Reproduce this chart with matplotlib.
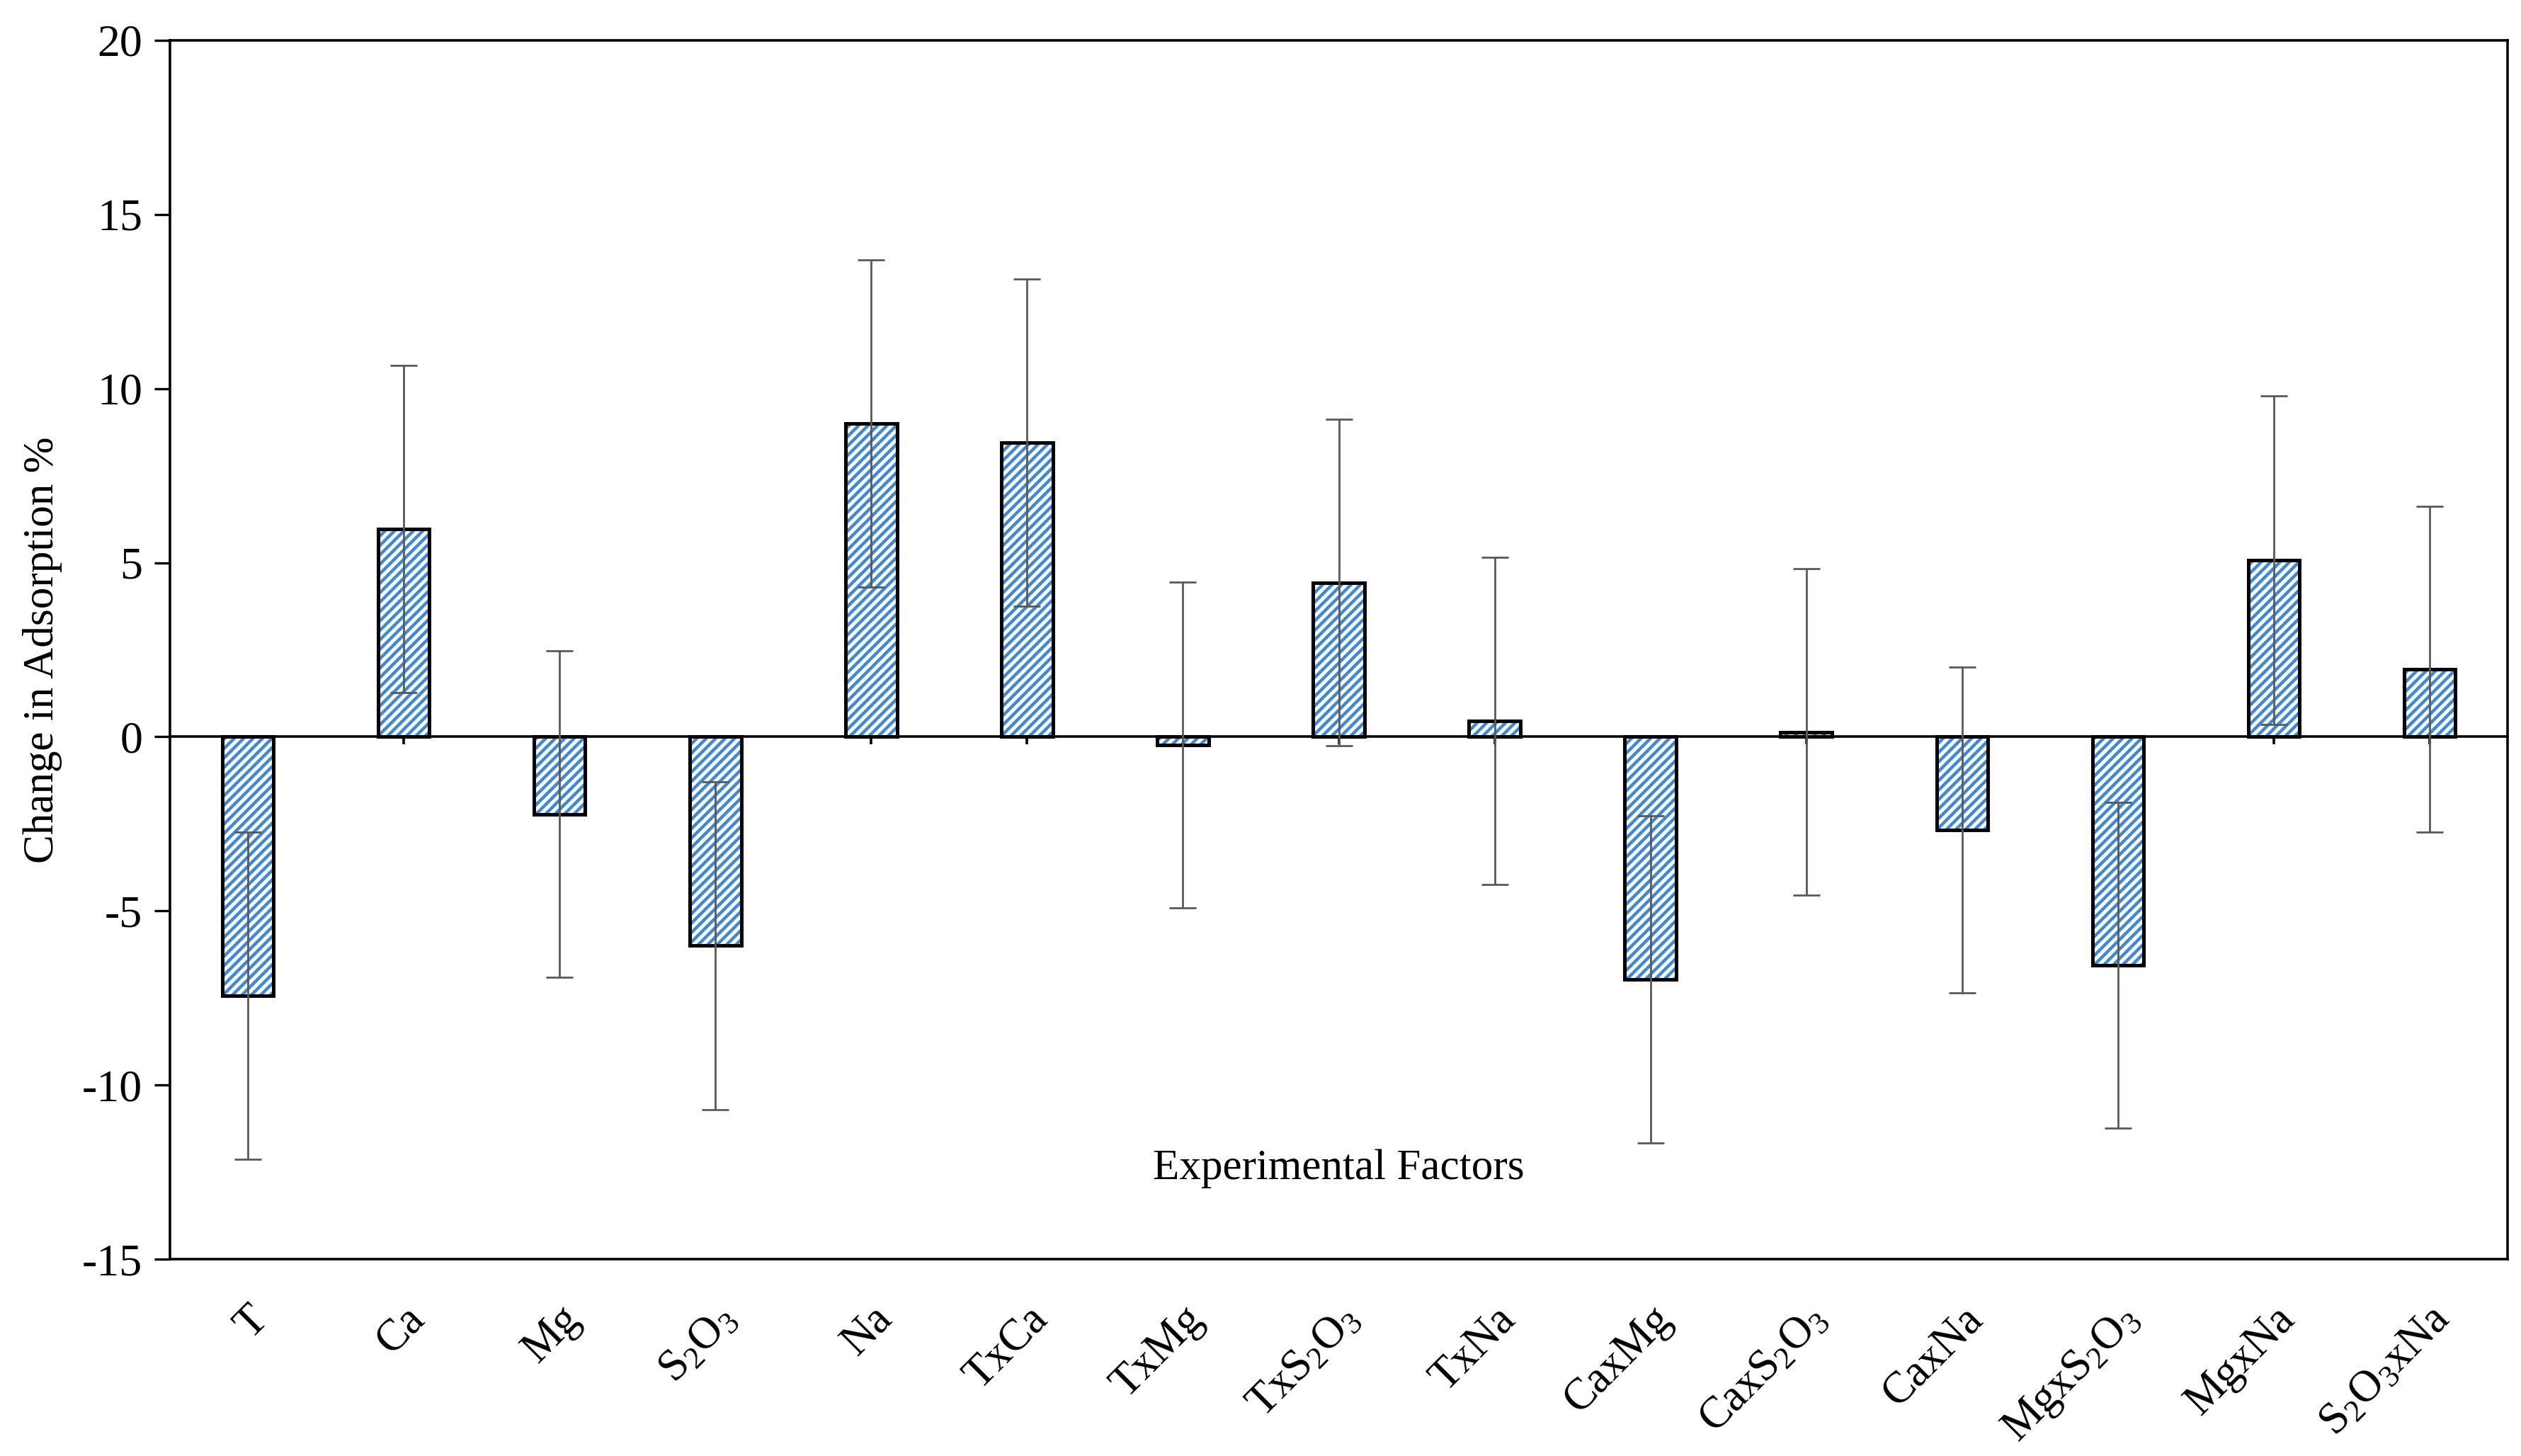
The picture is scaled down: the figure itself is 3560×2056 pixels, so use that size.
import numpy as np
import matplotlib.pyplot as plt

plt.rcParams['font.family'] = ['Liberation Serif', 'DejaVu Serif']
plt.rcParams['mathtext.fontset'] = 'custom'
plt.rcParams['mathtext.rm'] = 'Liberation Serif'
plt.rcParams['mathtext.it'] = 'Liberation Serif:italic'
plt.rcParams['hatch.linewidth'] = 1.6
plt.rcParams['axes.unicode_minus'] = False

factors = ['T', 'Ca', 'Mg', 'S$_2$O$_3$', 'Na', 'TxCa', 'TxMg', 'TxS$_2$O$_3$',
           'TxNa', 'CaxMg', 'CaxS$_2$O$_3$', 'CaxNa', 'MgxS$_2$O$_3$', 'MgxNa',
           'S$_2$O$_3$xNa']
effects = [-7.43, 5.96, -2.22, -6.0, 9.0, 8.45, -0.23, 4.43, 0.46, -6.97,
           0.14, -2.68, -6.56, 5.08, 1.94]
errors = [4.7, 4.7, 4.68, 4.7, 4.7, 4.7, 4.68, 4.68, 4.7, 4.7, 4.68, 4.68,
          4.68, 4.72, 4.68]

ymin, ymax = -15, 20
x = np.arange(len(factors))

fig = plt.figure(figsize=(17.8, 10.28), dpi=200)
ax = fig.add_axes([0.0674, 0.1352, 0.9273, 0.8371])

# hatched fill, then black outline on top
ax.bar(x, effects, width=0.33, color='white', edgecolor='#3d88d8',
       hatch='/////', linewidth=0, zorder=2)
ax.bar(x, effects, width=0.33, fill=False, edgecolor='black',
       linewidth=1.8, zorder=3)
ax.errorbar(x, effects, yerr=errors, fmt='none', ecolor='#595959',
            elinewidth=1.0, capsize=7, capthick=1.0, zorder=4)

ax.set_xlim(-0.5, 14.5)
ax.set_ylim(ymin, ymax)
ax.set_yticks(np.arange(-15, 21, 5))
ax.tick_params(axis='y', labelsize=23, length=8, width=1.2, direction='out', pad=6)
ax.set_xticks(x)
ax.set_xticklabels(factors, rotation=45, ha='right', rotation_mode='anchor',
                   fontsize=22.5)
ax.tick_params(axis='x', length=0, pad=20)

for s in ax.spines.values():
    s.set_linewidth(1.3)

# horizontal axis at zero with its own small ticks
sec = ax.secondary_xaxis((0 - ymin) / (ymax - ymin))
sec.set_xticks(x)
sec.set_xticklabels([])
sec.tick_params(axis='x', length=4, width=1.3, direction='out')
sec.spines['bottom'].set_linewidth(1.3)

ax.set_ylabel('Change in Adsorption %', fontsize=22, labelpad=10)
ax.text(7, -12.4, 'Experimental Factors', fontsize=22, ha='center', va='center')

fig.savefig('out.png', dpi=200)
